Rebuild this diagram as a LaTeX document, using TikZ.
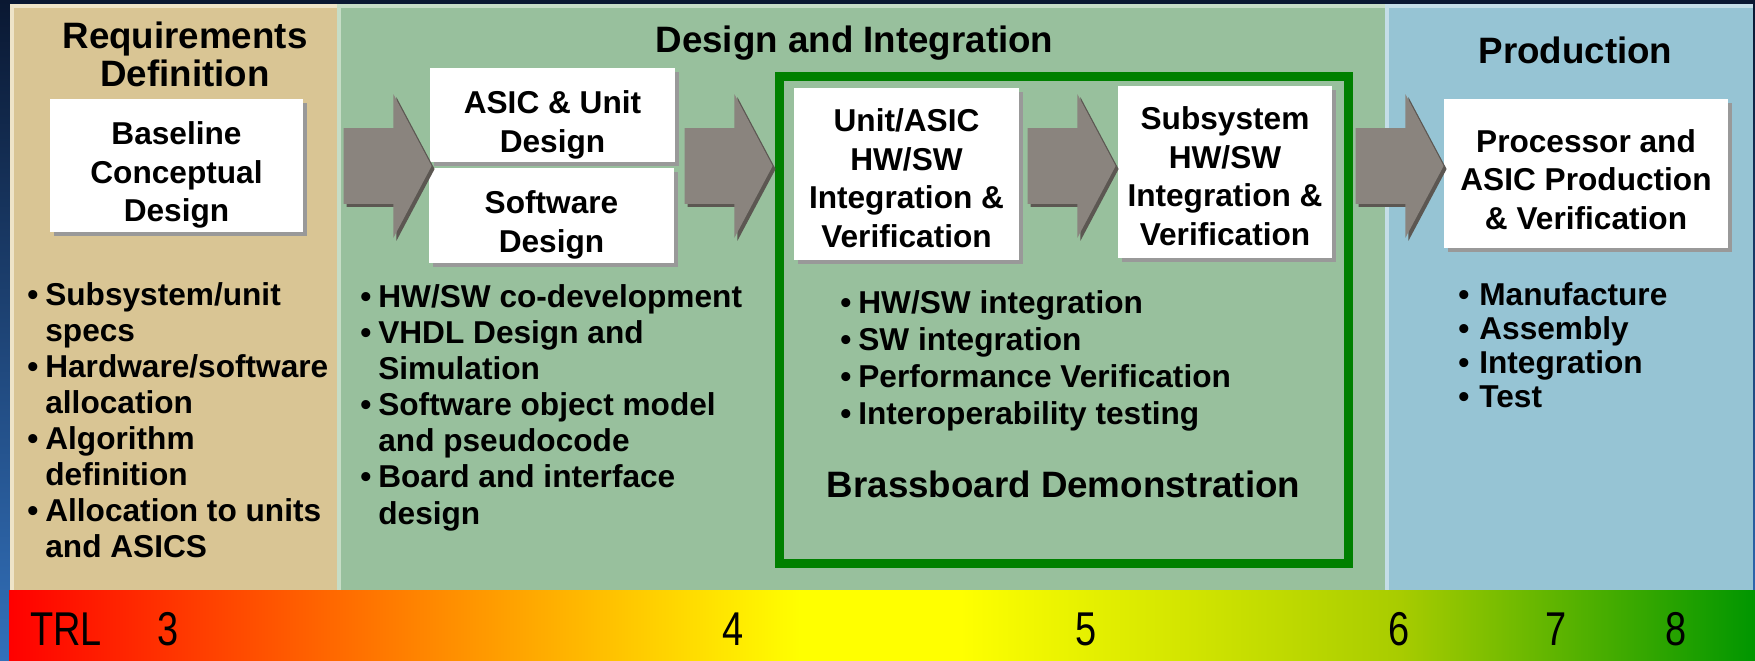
\documentclass[tikz,border=0pt]{standalone}
\usepackage{fontspec}
\usepackage{graphicx}
\setmainfont{Liberation Sans}
\usetikzlibrary{shapes.arrows, shadows}
\definecolor{navy}{RGB}{10,24,50}
\definecolor{skyblue}{RGB}{50,112,186}
\definecolor{tanbg}{RGB}{217,197,148}
\definecolor{tanedge}{RGB}{238,228,200}
\definecolor{sagebg}{RGB}{152,192,157}
\definecolor{sageedge}{RGB}{198,221,198}
\definecolor{prodbg}{RGB}{150,196,212}
\definecolor{prodedge}{RGB}{196,222,232}
\definecolor{brassgreen}{RGB}{0,128,0}
\definecolor{arrowgray}{RGB}{138,132,126}
\definecolor{arrowdark}{RGB}{92,87,82}
\definecolor{trlyg}{RGB}{168,204,0}
\definecolor{trlgreen}{RGB}{0,150,0}
\pgfdeclarehorizontalshading{trlscale}{100bp}{color(0bp)=(red); color(25bp)=(red);
  color(47.65bp)=(yellow); color(52.23bp)=(yellow); color(64.83bp)=(trlyg);
  color(75bp)=(trlgreen); color(100bp)=(trlgreen)}

\newcommand{\itm}{\makebox[0.36cm][l]{\textbullet}}
\newcommand{\itmw}{\makebox[0.42cm][l]{\textbullet}}
\newcommand{\cnt}{\hspace*{0.36cm}}
\newcommand{\topgap}[1][24pt]{\rule{0pt}{#1}}

\begin{document}
\begin{tikzpicture}[x=0.02cm, y=-0.02cm,
    card/.style={fill=white, inner sep=2pt, align=center,
                 font=\fontsize{18}{22}\selectfont\bfseries,
                 drop shadow={shadow xshift=0.08cm, shadow yshift=-0.08cm, fill=black!40, opacity=1}},
    phasehead/.style={align=center, inner sep=0pt, font=\fontsize{20.9}{21.6}\selectfont\bfseries},
    blockarrow/.style={single arrow, fill=arrowgray, anchor=tip, inner xsep=0pt, inner ysep=0.75cm,
                 single arrow head extend=0.68cm, single arrow tip angle=124, minimum height=1.76cm,
                 drop shadow={shadow xshift=0.06cm, shadow yshift=-0.06cm, fill=arrowdark, opacity=1}},
    bullets/.style={anchor=base west, inner sep=0pt},
    trl/.style={anchor=base, inner sep=0pt, font=\fontsize{27}{27}\selectfont},
  ]
  \useasboundingbox (0,0) rectangle (1755,660);
  \shade[top color=navy, bottom color=skyblue] (0,0) rectangle (1755,660);

  % phase panels
  \fill[tanedge] (10,4) rectangle (337,590);
  \fill[tanbg] (14,8) rectangle (337,590);
  \fill[sageedge] (337,4) rectangle (1385,590);
  \fill[sagebg] (341,8) rectangle (1385,590);
  \fill[prodedge] (1385,4) rectangle (1753,590);
  \fill[prodbg] (1389,8) rectangle (1753,590);

  \node[phasehead] (reqhead) at (185,54) {Requirements\\Definition};
  \node[phasehead, anchor=base] (dihead) at (854.5,52) {Design and Integration};
  \node[phasehead, anchor=base] (prodhead) at (1575.5,63) {Production};

  \node[draw=brassgreen, line width=0.18cm, minimum width=11.38cm, minimum height=9.74cm,
        inner sep=0pt] (brass) at (1064,320) {};

  % steps
  \node[card, minimum width=5.06cm, minimum height=2.66cm] (base) at (176.5,165.5) {\topgap Baseline\\Conceptual\\Design};
  \node[card, minimum width=4.9cm, minimum height=1.8cm] (asic) at (552.5,115) {\topgap ASIC \& Unit\\Design};
  \node[card, minimum width=4.9cm, minimum height=1.86cm] (soft) at (551.5,215.5) {\topgap Software\\Design};
  \node[card, minimum width=4.5cm, minimum height=3.44cm] (unit) at (906.5,174) {\topgap[18pt]Unit/ASIC\\HW/SW\\Integration \&\\Verification};
  \node[card, minimum width=4.28cm, minimum height=3.44cm] (subs) at (1225,172) {\topgap[18pt]Subsystem\\HW/SW\\Integration \&\\Verification};
  \node[card, minimum width=5.68cm, minimum height=2.98cm] (proc) at (1586,173.5) {\topgap[20pt]Processor and\\ASIC Production\\\& Verification};

  \node[blockarrow] (arr1) at (432,166) {};
  \node[blockarrow] (arr2) at (773,166) {};
  \node[blockarrow] (arr3) at (1116,166) {};
  \node[blockarrow] (arr4) at (1444,166) {};

  % bullet lists
  \node[bullets, font=\fontsize{18}{20.5}\selectfont\bfseries] (reqlist) at (27,305) {%
    \begin{tabular}[t]{@{}l@{}}
      \itm Subsystem/unit\\ \cnt specs\\
      \itm Hardware/software\\ \cnt allocation\\
      \itm Algorithm\\ \cnt definition\\
      \itm Allocation to units\\ \cnt and ASICS
    \end{tabular}};
  \node[bullets, font=\fontsize{18}{20.6}\selectfont\bfseries] (designlist) at (360,307) {%
    \begin{tabular}[t]{@{}l@{}}
      \itm HW/SW co-development\\
      \itm VHDL Design and\\ \cnt Simulation\\
      \itm Software object model\\ \cnt and pseudocode\\
      \itm Board and interface\\ \cnt design
    \end{tabular}};
  \node[bullets, font=\fontsize{18}{21.2}\selectfont\bfseries] (intlist) at (840,313) {%
    \begin{tabular}[t]{@{}l@{}}
      \itm HW/SW integration\\
      \itm SW integration\\
      \itm Performance Verification\\
      \itm Interoperability testing
    \end{tabular}};
  \node[bullets, font=\fontsize{18}{19.5}\selectfont\bfseries] (prodlist) at (1458,305) {%
    \begin{tabular}[t]{@{}l@{}}
      \itmw Manufacture\\
      \itmw Assembly\\
      \itmw Integration\\
      \itmw Test
    \end{tabular}};
  \node[phasehead, anchor=base] (demo) at (1063.5,497) {Brassboard Demonstration};

  % TRL scale
  \shade[shading=trlscale] (9,590) rectangle (1755,660);
  \node[trl] (trl) at (66,645) {\scalebox{0.8}[1]{TRL}};
  \foreach \lvl/\xpos in {3/168, 4/733, 5/1086, 6/1399, 7/1556, 8/1676}
    \node[trl] (trl\lvl) at (\xpos,645) {\scalebox{0.8}[1]{\lvl}};
\end{tikzpicture}
\end{document}
